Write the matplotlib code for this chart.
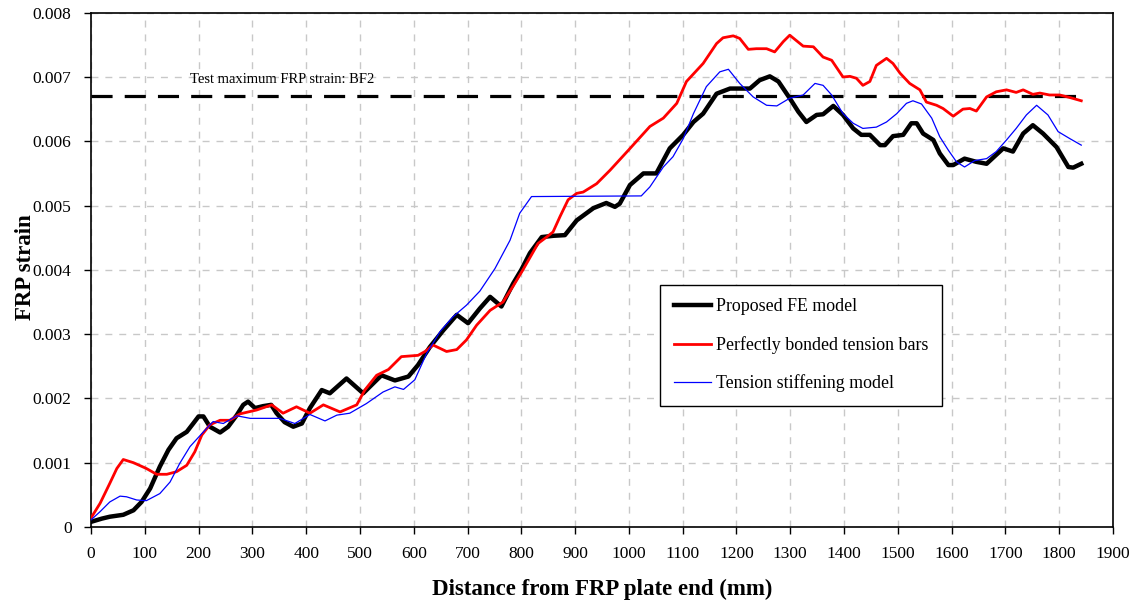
import matplotlib
matplotlib.use("Agg")
import matplotlib.pyplot as plt
from matplotlib.ticker import MultipleLocator, FuncFormatter

# ---------------- data ----------------
fe_x = [0, 20, 35, 60, 79, 94, 110, 128, 144, 159, 178, 190, 200, 209, 221, 240, 255, 271, 283,
        292, 305, 320, 335, 345, 360, 376, 392, 407, 429, 444, 475, 506, 540, 565, 590, 608,
        630, 655, 680, 701, 723, 742, 763, 785, 800, 816, 838, 860, 881, 903, 934, 958, 974,
        983, 1002, 1027, 1051, 1076, 1101, 1120, 1138, 1163, 1188, 1225, 1243, 1262, 1278,
        1299, 1315, 1330, 1349, 1361, 1380, 1398, 1417, 1432, 1448, 1467, 1476, 1491, 1510,
        1525, 1535, 1547, 1566, 1578, 1594, 1603, 1624, 1646, 1665, 1683, 1696, 1714, 1733,
        1751, 1770, 1795, 1817, 1826, 1841]
fe_y = [0.00008, 0.00013, 0.00016, 0.00019, 0.00026, 0.00039, 0.0006, 0.00094, 0.0012, 0.00138,
        0.00148, 0.00161, 0.00172, 0.00172, 0.00156, 0.00147, 0.00156, 0.00174, 0.0019,
        0.00195, 0.00185, 0.00188, 0.0019, 0.00177, 0.00163, 0.00156, 0.00161, 0.00185,
        0.00213, 0.00208, 0.00231, 0.00208, 0.00236, 0.00228, 0.00234, 0.00252,
        0.0028, 0.00306, 0.0033, 0.00317, 0.0034, 0.00358, 0.00343, 0.00379, 0.004, 0.00426,
        0.00451, 0.00453, 0.00454, 0.00477, 0.00496, 0.00504, 0.00498,
        0.00503, 0.00532, 0.0055, 0.0055, 0.00589, 0.0061, 0.0063, 0.00643, 0.00674, 0.00682,
        0.00682, 0.00695, 0.00701, 0.00693,
        0.00667, 0.00646, 0.0063, 0.00641, 0.00642, 0.00655, 0.00641, 0.0062, 0.0061, 0.0061,
        0.00594, 0.00594, 0.00608, 0.0061,
        0.00628, 0.00628, 0.00612, 0.00602, 0.00581, 0.00563, 0.00563, 0.00573, 0.00568,
        0.00565, 0.00579, 0.00589, 0.00584, 0.00612,
        0.00625, 0.00612, 0.00591, 0.0056, 0.00559, 0.00565]

pb_x = [0, 17, 35, 48, 60, 79, 103, 122, 141, 159, 178, 193, 206, 221, 240, 258, 277, 308,
        336, 357, 382, 407, 432, 463, 494, 509, 531, 553, 577, 608, 621, 636, 661, 680, 698,
        717, 742, 766, 785, 803, 831, 847, 859, 872, 887, 903, 915, 940, 965, 999, 1039,
        1064, 1089, 1107, 1138, 1163, 1175, 1194, 1206, 1222, 1237, 1256, 1271, 1287, 1299,
        1324, 1343, 1361, 1377, 1398, 1411, 1423, 1435, 1448, 1460, 1479, 1491, 1504, 1522,
        1541, 1553, 1572, 1584, 1603, 1621, 1634, 1646, 1665, 1683, 1702, 1720, 1733, 1751,
        1764, 1782, 1801, 1820, 1841]
pb_y = [0.00014, 0.00037, 0.00068, 0.00091, 0.00105, 0.001, 0.00091, 0.00082, 0.00082,
        0.00086, 0.00096, 0.00117, 0.00143, 0.00159, 0.00166, 0.00166, 0.00176, 0.00182,
        0.0019, 0.00177, 0.00187, 0.00177, 0.0019, 0.00179, 0.0019, 0.00213, 0.00236,
        0.00245, 0.00265, 0.00267, 0.00273, 0.00283, 0.00273, 0.00276, 0.00291,
        0.00314, 0.00337, 0.0035, 0.00375, 0.004, 0.00441, 0.00451, 0.00459, 0.00483,
        0.00509, 0.00519, 0.00521, 0.00534, 0.00555, 0.00586, 0.00623,
        0.00636, 0.00659, 0.00693, 0.00721, 0.00752, 0.00761, 0.00764, 0.0076, 0.00743,
        0.00744, 0.00744, 0.00739, 0.00755, 0.00765,
        0.00748, 0.00747, 0.00731, 0.00726, 0.007, 0.00701, 0.00698, 0.00687, 0.00693,
        0.00718, 0.00729, 0.00721, 0.00706, 0.0069,
        0.0068, 0.00661, 0.00656, 0.00651, 0.00639, 0.0065, 0.00651, 0.00647, 0.00669,
        0.00677, 0.0068, 0.00676, 0.0068, 0.00673,
        0.00675, 0.00672, 0.00672, 0.00668, 0.00663]

ts_x = [0, 17, 35, 54, 66, 85, 103, 128, 147, 165, 184, 209, 227, 246, 271, 296, 320, 351,
        379, 407, 435, 457, 481, 512, 543, 565, 581, 602, 624, 649, 673, 698, 723, 751, 779,
        797, 819, 1023, 1039, 1064, 1082, 1101, 1120, 1144, 1169, 1185, 1206, 1231, 1256,
        1275, 1299, 1324, 1346, 1361, 1377, 1398, 1417, 1435, 1460, 1479, 1498, 1516, 1528,
        1544, 1563, 1578, 1594, 1609, 1624, 1643, 1665, 1683, 1702, 1720, 1739, 1758, 1779,
        1798, 1820, 1841]
ts_y = [0.00011, 0.00024, 0.00039, 0.00048, 0.00047, 0.00042, 0.00041, 0.00052, 0.0007,
        0.00099, 0.00125, 0.00148, 0.00164, 0.00161, 0.00173, 0.00169, 0.00169, 0.00169,
        0.00161, 0.00175, 0.00165, 0.00174, 0.00177, 0.00192, 0.0021, 0.00218, 0.00214,
        0.00229, 0.0027, 0.00304, 0.00327, 0.00345, 0.00367, 0.00402, 0.00446,
        0.00488, 0.00514, 0.00515, 0.00529, 0.0056, 0.00576, 0.00604, 0.00643, 0.00685,
        0.00708, 0.00712, 0.0069, 0.00669, 0.00656,
        0.00655, 0.00667, 0.00672, 0.0069, 0.00687, 0.00672, 0.00643, 0.00628, 0.0062,
        0.00622, 0.0063, 0.00643, 0.00659, 0.00663,
        0.00658, 0.00636, 0.00607, 0.00586, 0.00568, 0.0056, 0.0057, 0.00573, 0.00584,
        0.00602, 0.0062, 0.00641, 0.00656, 0.00641,
        0.00615, 0.00604, 0.00594]

test_max = 0.0067
test_x = [0, 1840]
legend_labels = ["Proposed FE model", "Perfectly bonded tension bars", "Tension stiffening model"]
test_label = "Test maximum FRP strain: BF2"

# ---------------- plot ----------------
plt.rcParams['font.family'] = ['Liberation Serif', 'DejaVu Serif']
fig = plt.figure(figsize=(11.42, 6.10), dpi=100)
ax = fig.add_axes([91/1142, 83/610, 1022/1142, 514.3/610])

grid_kw = dict(color='#c8c8c8', linestyle=(0, (5, 5)), linewidth=1.0)
ax.set_axisbelow(True)
ax.grid(True, which='major', **grid_kw)

ax.plot(test_x, [test_max, test_max], color='black', linewidth=2.3,
        linestyle=(0, (6.6, 3.8)), zorder=2)
ax.plot(fe_x, fe_y, color='black', linewidth=3.2, label=legend_labels[0], zorder=3,
        solid_joinstyle='round')
ax.plot(pb_x, pb_y, color='#ff0000', linewidth=2.0, label=legend_labels[1], zorder=4)
ax.plot(ts_x, ts_y, color='#0000ff', linewidth=0.9, label=legend_labels[2], zorder=5)

ax.text(184, 0.00690, test_label, fontsize=10.5, ha='left', va='baseline')

ax.set_xlim(0, 1900)
ax.set_ylim(0, 0.008)
ax.xaxis.set_major_locator(MultipleLocator(100))
ax.yaxis.set_major_locator(MultipleLocator(0.001))
ax.yaxis.set_major_formatter(FuncFormatter(lambda v, p: '0' if abs(v) < 1e-9 else '%.3f' % v))
ax.tick_params(axis='both', direction='out', length=5, width=1, labelsize=12.5, color='black')
ax.tick_params(axis='x', pad=9)
ax.tick_params(axis='y', pad=9)
for s in ax.spines.values():
    s.set_linewidth(1.2)
    s.set_color('black')

ax.set_xlabel('Distance from FRP plate end (mm)', fontsize=16.5, fontweight='bold')
ax.set_ylabel('FRP strain', fontsize=16.5, fontweight='bold')
ax.xaxis.set_label_coords(0.5, -0.1)
ax.yaxis.set_label_coords(-0.054, 0.505)

leg = ax.legend(loc='upper left', bbox_to_anchor=(0.557, 0.4705), fontsize=12.9,
                frameon=True, fancybox=False, shadow=False, framealpha=1,
                edgecolor='black', handlelength=2.1, handletextpad=0.25,
                labelspacing=1.15, borderpad=0.75, borderaxespad=0)
leg.get_frame().set_linewidth(1.0)

fig.savefig('out.png', dpi=100)
